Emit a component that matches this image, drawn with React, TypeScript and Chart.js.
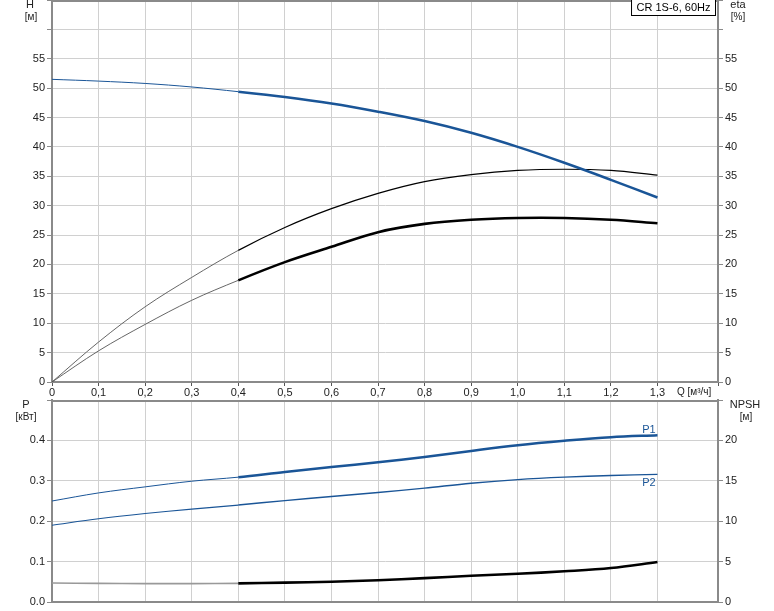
import React, { useEffect, useRef } from "react";
import { Chart, registerables } from "chart.js";

Chart.register(...registerables);

// ---- data ----
const Q = [0, 0.1, 0.2, 0.3, 0.4, 0.5, 0.6, 0.7, 0.8, 0.9, 1.0, 1.1, 1.2, 1.3];
const H = [51.5, 51.2, 50.8, 50.2, 49.4, 48.5, 47.4, 46.0, 44.4, 42.4, 40.0, 37.3, 34.4, 31.4];
const ETA = [0, 6.8, 12.8, 17.8, 22.4, 26.3, 29.5, 32.1, 34.1, 35.3, 36.0, 36.2, 36.0, 35.2];
const ETA_PUMP = [0, 5.3, 9.8, 13.9, 17.3, 20.4, 23.0, 25.5, 26.9, 27.6, 27.9, 27.9, 27.6, 27.0];
const P1 = [0.25, 0.27, 0.285, 0.299, 0.309, 0.322, 0.334, 0.346, 0.359, 0.374, 0.388, 0.399, 0.408, 0.413];
const P2 = [0.19, 0.206, 0.219, 0.23, 0.24, 0.251, 0.261, 0.271, 0.282, 0.294, 0.303, 0.309, 0.313, 0.316];
const NPSH = [2.35, 2.3, 2.28, 2.28, 2.3, 2.4, 2.5, 2.7, 2.95, 3.25, 3.5, 3.8, 4.2, 4.95];

const TITLE = "CR 1S-6, 60Hz";
const DUTY_START = 0.4;

const BLUE = "#1a5597";
const GRID = "#d0d0d0";
const AXIS = "#8a8a8a";
const FONT = "'Liberation Sans', Arial, sans-serif";

const pts = (ys: number[]) => Q.map((q, i) => ({ x: q, y: ys[i] }));

const fmtQ = (v: number) => {
  const r = Math.round(v * 100) / 100;
  if (Math.abs(r * 10 - Math.round(r * 10)) > 1e-6) return "";
  if (r > 1.31) return "";
  if (r === 0) return "0";
  return r.toFixed(1).replace(".", ",");
};

function seg(thin: number, thick: number, thinColor: string, thickColor: string) {
  return {
    borderWidth: (c: any) => (c.p0.parsed.x >= DUTY_START - 1e-6 ? thick : thin),
    borderColor: (c: any) => (c.p0.parsed.x >= DUTY_START - 1e-6 ? thickColor : thinColor),
  };
}

function line(data: number[], axis: string, thin: number, thick: number, thinColor: string, thickColor: string) {
  return {
    data: pts(data),
    yAxisID: axis,
    borderColor: thickColor,
    borderWidth: thick,
    pointRadius: 0,
    tension: 0.35,
    segment: seg(thin, thick, thinColor, thickColor),
  };
}

const framePlugin = {
  id: "frame",
  afterDraw(chart: any, _args: any, opts: any) {
    const { ctx, chartArea } = chart;
    ctx.save();
    ctx.strokeStyle = AXIS;
    ctx.lineWidth = 2;
    ctx.beginPath();
    ctx.moveTo(chartArea.left, chartArea.top + 1);
    ctx.lineTo(chartArea.right, chartArea.top + 1);
    ctx.stroke();
    const labels = opts.labels || [];
    for (const l of labels) {
      ctx.font = `${l.size || 11}px ${FONT}`;
      ctx.fillStyle = l.color || "#222";
      ctx.textAlign = l.align || "center";
      ctx.textBaseline = "middle";
      ctx.fillText(l.text, l.x, l.y);
    }
    if (opts.box) {
      const b = opts.box;
      ctx.font = `11px ${FONT}`;
      const w = ctx.measureText(b.text).width + 10;
      const x = chartArea.right - 3 - w;
      ctx.fillStyle = "#fff";
      ctx.fillRect(x, 0, w, 15.5);
      ctx.strokeStyle = "#000";
      ctx.lineWidth = 1;
      ctx.strokeRect(x + 0.5, -0.5, w, 16);
      ctx.fillStyle = "#000";
      ctx.textAlign = "center";
      ctx.textBaseline = "middle";
      ctx.fillText(b.text, x + w / 2 + 0.5, 8);
    }
    ctx.restore();
  },
};

const yAxis = (pos: "left" | "right", max: number, step: number, labelMax: number, fmt: (v: number) => string, grid: boolean) => ({
  type: "linear" as const,
  position: pos,
  min: 0,
  max,
  afterFit: (s: any) => {
    s.width = pos === "left" ? 52 : 56;
    s.paddingTop = 0;
    s.paddingBottom = 0;
  },
  border: { color: AXIS, width: 2 },
  grid: {
    display: true,
    drawOnChartArea: grid,
    color: GRID,
    lineWidth: 1,
    tickLength: 5,
    tickColor: AXIS,
  },
  ticks: {
    stepSize: step,
    padding: 2,
    color: "#222",
    font: { family: FONT, size: 11 },
    callback: (v: any) => (v > labelMax + 1e-6 ? "" : fmt(Number(v))),
  },
});

export default function App() {
  const topRef = useRef<HTMLCanvasElement>(null);
  const botRef = useRef<HTMLCanvasElement>(null);

  useEffect(() => {
    const top = new Chart(topRef.current!, {
      type: "line",
      data: {
        datasets: [
          line(H, "y", 1, 2.5, BLUE, BLUE),
          line(ETA, "y", 0.9, 1.2, "#555", "#000"),
          line(ETA_PUMP, "y", 0.9, 2.6, "#555", "#000"),
        ],
      },
      options: {
        responsive: false,
        animation: false,
        events: [],
        layout: { padding: 0 },
        plugins: {
          legend: { display: false },
          tooltip: { enabled: false },
          frame: {
            labels: [
              { text: "H", x: 30, y: 5 },
              { text: "[м]", x: 31, y: 17, size: 10 },
              { text: "eta", x: 738, y: 5 },
              { text: "[%]", x: 738, y: 17, size: 10 },
              { text: "Q [м³/ч]", x: 677, y: 392, align: "left", size: 10 },
            ],
            box: { text: TITLE },
          },
        } as any,
        scales: {
          x: {
            type: "linear",
            min: 0,
            max: 1.43,
            afterFit: (s: any) => {
              s.height = 17;
              s.paddingLeft = 0;
              s.paddingRight = 0;
            },
            border: { color: AXIS, width: 2 },
            grid: { color: GRID, lineWidth: 1, tickLength: 4, tickColor: "#555" },
            ticks: {
              stepSize: 0.1,
              autoSkip: false,
              maxRotation: 0,
              padding: 0,
              color: "#222",
              font: { family: FONT, size: 11 },
              callback: (v: any) => fmtQ(Number(v)),
            },
          },
          y: yAxis("left", 65, 5, 55, (v) => String(Math.round(v)), true),
          y2: yAxis("right", 65, 5, 55, (v) => String(Math.round(v)), false),
        },
      },
      plugins: [framePlugin],
    });

    const bot = new Chart(botRef.current!, {
      type: "line",
      data: {
        datasets: [
          line(P1, "y", 1, 2.5, BLUE, BLUE),
          line(P2, "y", 1.2, 1.4, BLUE, BLUE),
          line(NPSH, "y2", 1.6, 2.6, "#999", "#000"),
        ],
      },
      options: {
        responsive: false,
        animation: false,
        events: [],
        layout: { padding: { top: 1, right: 0, left: 0, bottom: 0 } },
        plugins: {
          legend: { display: false },
          tooltip: { enabled: false },
          frame: {
            labels: [
              { text: "P", x: 26, y: 6 },
              { text: "[кВт]", x: 26, y: 18, size: 10 },
              { text: "NPSH", x: 745, y: 6 },
              { text: "[м]", x: 746, y: 18, size: 10 },
              { text: "P1", x: 649, y: 31, color: BLUE },
              { text: "P2", x: 649, y: 84, color: BLUE },
            ],
          },
        } as any,
        scales: {
          x: {
            type: "linear",
            min: 0,
            max: 1.43,
            afterFit: (s: any) => {
              s.height = 9;
              s.paddingLeft = 0;
              s.paddingRight = 0;
            },
            border: { color: AXIS, width: 2 },
            grid: { color: GRID, lineWidth: 1, drawTicks: false },
            ticks: { stepSize: 0.1, display: false, autoSkip: false },
          },
          y: yAxis("left", 0.5, 0.1, 0.4, (v) => v.toFixed(1), true),
          y2: yAxis("right", 25, 5, 20, (v) => String(Math.round(v)), false),
        },
      },
      plugins: [framePlugin],
    });

    return () => {
      top.destroy();
      bot.destroy();
    };
  }, []);

  return (
    <div style={{ position: "absolute", left: 0, top: 0, width: 774, height: 611, overflow: "hidden", background: "#fff" }}>
      <canvas ref={topRef} width={774} height={399} style={{ display: "block", width: 774, height: 399 }} />
      <canvas ref={botRef} width={774} height={212} style={{ display: "block", width: 774, height: 212 }} />
    </div>
  );
}
